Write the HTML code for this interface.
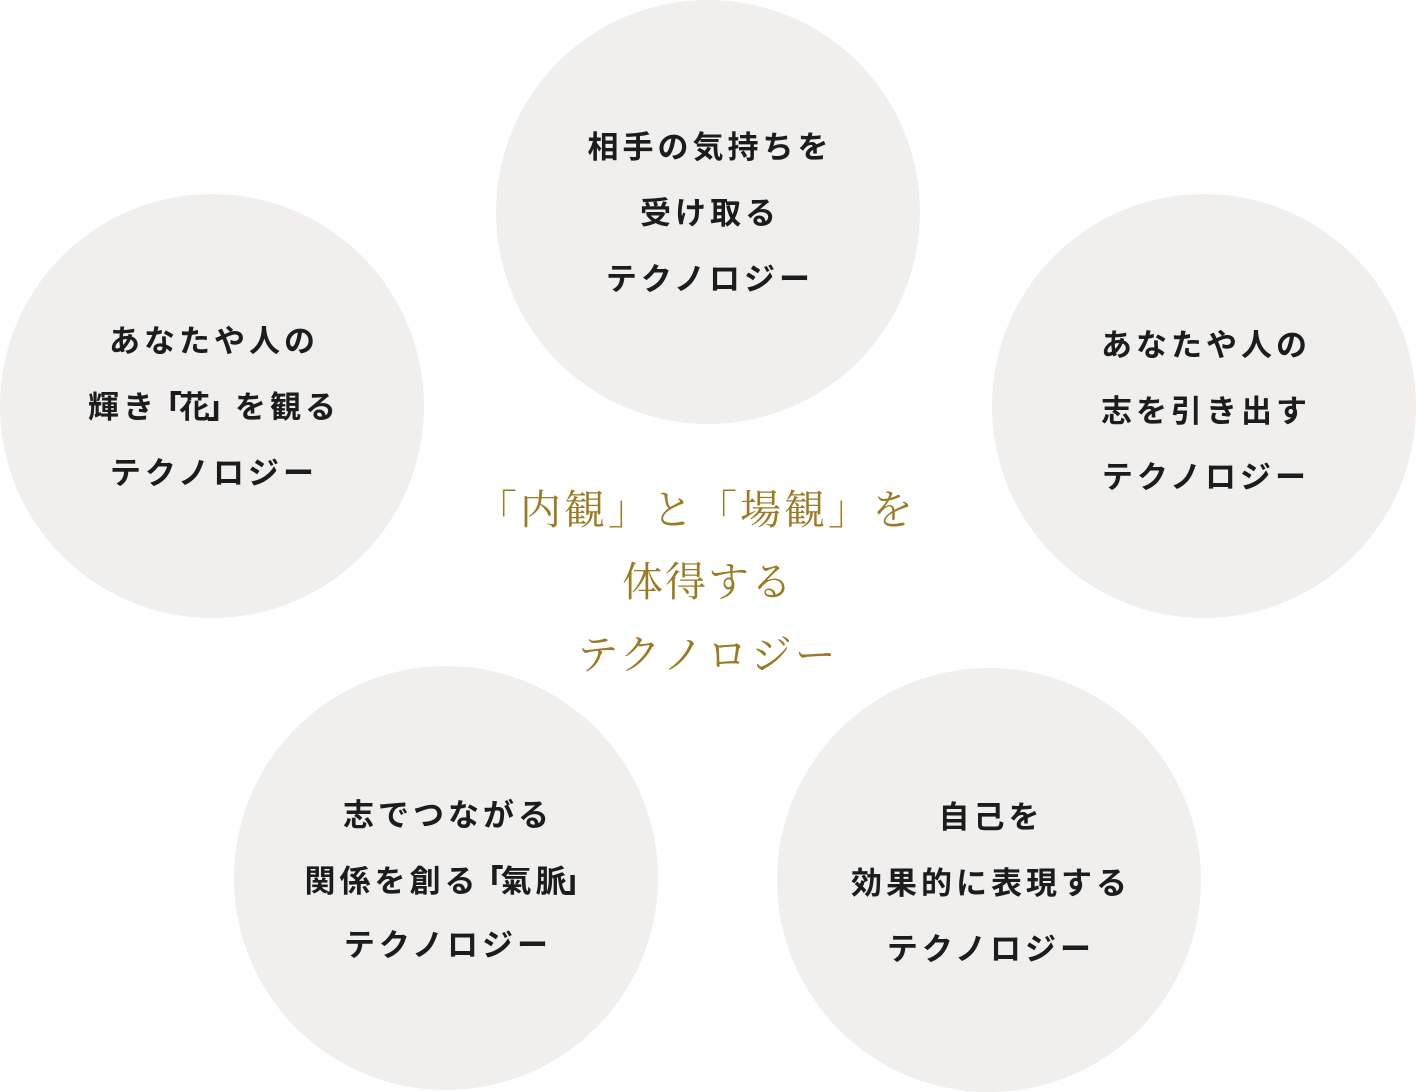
<!DOCTYPE html>
<html><head><meta charset="utf-8"><style>
body{margin:0;width:1416px;height:1092px;background:#fff;position:relative;overflow:hidden}
.c{position:absolute;width:424px;height:424px;border-radius:50%;background:#f0efed}
.t{position:absolute;width:600px;text-align:center;font-family:"Liberation Sans","Noto Sans CJK JP",sans-serif;font-weight:bold;font-size:31px;color:#1c1c1c;letter-spacing:4px;line-height:40px}
.t b{margin:0 -7px}
.g{position:absolute;width:700px;left:358px;text-align:center;font-family:"Liberation Serif","Noto Serif CJK SC",serif;font-size:41px;color:#9a7a22;letter-spacing:3px;line-height:50px}
</style></head><body>
<div class="c" style="left:496px;top:0"></div>
<div class="c" style="left:0;top:194px"></div>
<div class="c" style="left:992px;top:194px"></div>
<div class="c" style="left:234px;top:666px"></div>
<div class="c" style="left:777px;top:668px"></div>

<div class="t" style="left:410px;top:128px">相手の気持ちを</div>
<div class="t" style="left:410px;top:194px">受け取る</div>
<div class="t" style="left:410px;top:260px">テクノロジー</div>

<div class="t" style="left:-86px;top:322px">あなたや人の</div>
<div class="t" style="left:-86px;top:388px">輝き<b>「</b>花<b>」</b>を観る</div>
<div class="t" style="left:-86px;top:454px">テクノロジー</div>

<div class="t" style="left:906px;top:326px">あなたや人の</div>
<div class="t" style="left:906px;top:392px">志を引き出す</div>
<div class="t" style="left:906px;top:458px">テクノロジー</div>

<div class="t" style="left:148px;top:796px">志でつながる</div>
<div class="t" style="left:148px;top:862px">関係を創る<b>「</b>氣脈<b>」</b></div>
<div class="t" style="left:148px;top:926px">テクノロジー</div>

<div class="t" style="left:691px;top:798px">自己を</div>
<div class="t" style="left:691px;top:864px">効果的に表現する</div>
<div class="t" style="left:691px;top:930px">テクノロジー</div>

<div class="g" style="top:485px;left:346px">「内観」と「場観」を</div>
<div class="g" style="top:557px;letter-spacing:2px">体得する</div>
<div class="g" style="top:630px">テクノロジー</div>
</body></html>
